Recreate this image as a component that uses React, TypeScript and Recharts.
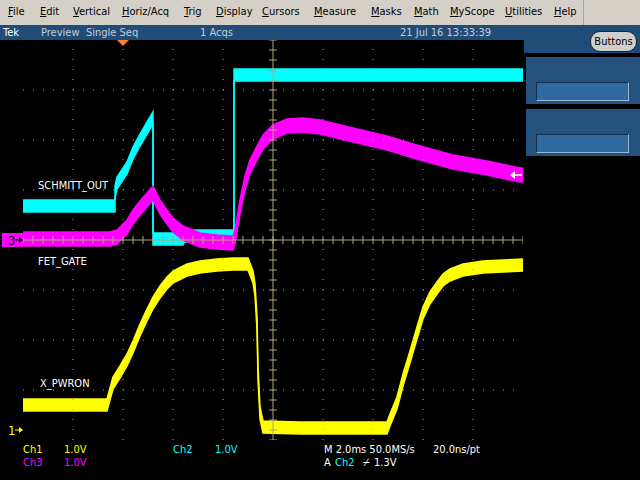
import React from 'react';
import {
  ComposedChart,
  Area,
  Scatter,
  XAxis,
  YAxis,
  ReferenceLine,
  ReferenceDot,
} from 'recharts';

// time in ms relative to the trigger, level in volts
const ch1Time = [
  -4.0, -0.64, -0.4, -0.12, 0.16, 0.4, 0.68, 0.96, 1.2, 1.48, 1.76, 2.0, 2.56, 3.08, 3.76, 4.4, 5.0,
  5.2, 5.28, 5.36, 5.4, 5.48, 5.6, 7.08, 10.56, 10.68, 10.96, 11.2, 11.48, 11.76, 12.0, 12.28, 12.56,
  12.8, 13.08, 13.6, 14.4, 15.2, 16.0,
];
const ch1Volts = [
  0.5, 0.5, 0.94, 1.16, 1.4, 1.66, 2.0, 2.3, 2.54, 2.76, 2.94, 3.06, 3.2, 3.26, 3.3, 3.32, 3.32,
  3.06, 2.8, 2.14, 1.14, 0.34, 0.06, 0.04, 0.04, 0.2, 0.54, 1.0, 1.46, 1.94, 2.34, 2.64, 2.84,
  3.0, 3.1, 3.2, 3.26, 3.28, 3.3,
];

const ch2Time = [-4.0, -0.32, -0.32, -0.24, 0.16, 0.4, 0.68, 0.96, 1.2, 1.2, 2.4, 2.44, 4.44, 4.44, 16.0];
const ch2Volts = [0.68, 0.68, 0.96, 1.14, 1.44, 1.74, 2.0, 2.24, 2.44, 0.02, 0.02, 0.08, 0.08, 3.3, 3.3];

const ch3Time = [
  -4.0, -0.52, -0.24, 0.16, 0.4, 0.68, 0.96, 1.2, 1.48, 1.76, 2.0, 2.4, 3.08, 3.76, 4.4, 4.48, 4.68,
  4.88, 5.08, 5.36, 5.6, 6.0, 6.56, 7.2, 7.88, 9.2, 10.56, 11.88, 13.2, 14.56, 15.88, 16.0,
];
const ch3Volts = [
  0.02, 0.02, 0.06, 0.26, 0.46, 0.64, 0.8, 0.94, 0.66, 0.46, 0.3, 0.14, 0.0, -0.04, -0.06, 0.06, 0.66,
  1.14, 1.46, 1.74, 1.96, 2.16, 2.28, 2.3, 2.26, 2.1, 1.94, 1.74, 1.56, 1.44, 1.3, 1.3,
];

// noise band (half width, V)
const ch1Noise = 0.12;
const ch2Noise = 0.12;
const ch3Noise = 0.14;

// channel position in divisions, 1 V/div each
const ch1Pos = -3.8;
const ch2Pos = 0;
const ch3Pos = 0;
const voltsPerDiv = 1;

const triggerLevel = 1.3;
const majorT = [-2, 0, 2, 4, 8, 10, 12, 14];
const majorV = [-3, -2, -1, 1, 2, 3];

const menuItems = ['File', 'Edit', 'Vertical', 'Horiz/Acq', 'Trig', 'Display', 'Cursors', 'Measure', 'Masks', 'Math', 'MyScope', 'Utilities', 'Help'];
const menuX = [8, 40, 73, 122, 184, 216, 262, 314, 371, 414, 450, 505, 554];

const minorT = Array.from({ length: 51 }, (_, i) => -4 + i * 0.4);
const minorV = Array.from({ length: 41 }, (_, i) => -4 + i * 0.2);

const toDiv = (v: number, pos: number) => v / voltsPerDiv + pos;

const buildBand = (time: number[], volts: number[], noise: number, pos: number) =>
  time.map((t, i) => ({ t, band: [toDiv(volts[i] - noise, pos), toDiv(volts[i] + noise, pos)] }));

const ch1Data = buildBand(ch1Time, ch1Volts, ch1Noise, ch1Pos);
const ch2Data = buildBand(ch2Time, ch2Volts, ch2Noise, ch2Pos);
const ch3Data = buildBand(ch3Time, ch3Volts, ch3Noise, ch3Pos);

const hTicks = minorT.map((t) => ({ t, y: 0 }));
const vTicks = minorV.map((y) => ({ t: 6, y }));

const GRID = '#aea47c';
const YELLOW = '#ffff00';
const CYAN = '#00ffff';
const MAGENTA = '#ff00ff';
const BLUE = '#204c78';
const uiFont = "'DejaVu Sans Condensed', 'Liberation Sans Narrow', sans-serif";

const txt = (left: number, top: number, color: string, text: string, lh = 12) => (
  <div
    style={{
      position: 'absolute',
      left,
      top,
      color,
      fontSize: 11,
      fontFamily: uiFont,
      lineHeight: `${lh}px`,
      whiteSpace: 'pre',
    }}
  >
    {text}
  </div>
);

const App = () => {
  return (
    <div style={{ position: 'absolute', left: 0, top: 0, width: 640, height: 480, background: '#000', overflow: 'hidden' }}>
      {/* menu bar */}
      <div style={{ position: 'absolute', left: 0, top: 0, width: 640, height: 25, background: '#d4d0c8' }} />
      <div style={{ position: 'absolute', left: 583, top: 0, width: 1, height: 25, background: '#a8a49c' }} />
      {menuItems.map((m, i) => (
        <div
          key={m}
          style={{ position: 'absolute', left: menuX[i], top: 6, fontSize: 11, fontFamily: uiFont, color: '#000', lineHeight: '12px' }}
        >
          <span style={{ textDecoration: 'underline' }}>{m[0]}</span>
          {m.slice(1)}
        </div>
      ))}
      {/* status bar */}
      <div style={{ position: 'absolute', left: 0, top: 25, width: 640, height: 15, background: BLUE }} />
      <div style={{ position: 'absolute', left: 524, top: 25, width: 116, height: 28, background: BLUE }} />
      {txt(3, 27, '#ffffff', 'Tek')}
      {txt(41, 27, '#c4ccd8', 'Preview')}
      {txt(86, 27, '#c4ccd8', 'Single Seq')}
      {txt(200, 27, '#c4ccd8', '1 Acqs')}
      {txt(400, 27, '#c4ccd8', '21 Jul 16 13:33:39')}
      <div
        style={{
          position: 'absolute',
          left: 590,
          top: 31,
          width: 45,
          height: 19,
          borderRadius: 10,
          background: '#cfcfcf',
          border: '1px solid #222',
          fontFamily: uiFont,
          fontSize: 11,
          lineHeight: '19px',
          textAlign: 'center',
          color: '#000',
        }}
      >
        Buttons
      </div>
      {[57, 109].map((y) => (
        <div key={y} style={{ position: 'absolute', left: 526, top: y, width: 114, height: 47, background: '#24517d' }}>
          <div
            style={{
              position: 'absolute',
              left: 10,
              top: 25,
              width: 91,
              height: 17,
              background: '#2f69a2',
              borderTop: '1px solid #142f4c',
              borderLeft: '1px solid #142f4c',
              borderBottom: '1px solid #9cb6d0',
              borderRight: '1px solid #9cb6d0',
            }}
          />
        </div>
      ))}

      <div style={{ position: 'absolute', left: 0, top: 0 }}>
        <ComposedChart width={640} height={480} margin={{ top: 40, right: 117, bottom: 40, left: 23 }}>
          <XAxis
            xAxisId="b"
            type="number"
            dataKey="t"
            domain={[-4, 16]}
            allowDataOverflow
            ticks={minorT}
            interval={0}
            orientation="bottom"
            mirror
            height={0}
            tickSize={4}
            tick={false}
            stroke={GRID}
          />
          <XAxis
            xAxisId="t"
            type="number"
            dataKey="t"
            domain={[-4, 16]}
            allowDataOverflow
            ticks={minorT}
            interval={0}
            orientation="top"
            mirror
            height={0}
            tickSize={4}
            tick={false}
            stroke={GRID}
          />
          <YAxis
            yAxisId="l"
            type="number"
            domain={[-4, 4]}
            allowDataOverflow
            ticks={minorV}
            interval={0}
            orientation="left"
            mirror
            width={0}
            tickSize={4}
            tick={false}
            stroke={GRID}
          />
          <YAxis
            yAxisId="r"
            type="number"
            domain={[-4, 4]}
            allowDataOverflow
            ticks={minorV}
            interval={0}
            orientation="right"
            mirror
            width={0}
            tickSize={4}
            tick={false}
            stroke={GRID}
          />
          {majorT.map((t) => (
            <ReferenceLine key={`gx${t}`} xAxisId="b" yAxisId="l" x={t} stroke={GRID} strokeDasharray="1 9" />
          ))}
          {majorV.map((v) => (
            <ReferenceLine key={`gy${v}`} xAxisId="b" yAxisId="l" y={v} stroke={GRID} strokeDasharray="1 9" />
          ))}
          <ReferenceLine xAxisId="b" yAxisId="l" x={6} stroke={GRID} />
          <ReferenceLine xAxisId="b" yAxisId="l" y={0} stroke={GRID} />
          <Scatter
            xAxisId="b"
            yAxisId="l"
            data={hTicks}
            dataKey="y"
            isAnimationActive={false}
            shape={(p: any) => <line x1={p.cx} x2={p.cx} y1={p.cy - 4} y2={p.cy + 4} stroke={GRID} />}
          />
          <Scatter
            xAxisId="b"
            yAxisId="l"
            data={vTicks}
            dataKey="y"
            isAnimationActive={false}
            shape={(p: any) => <line x1={p.cx - 4} x2={p.cx + 4} y1={p.cy} y2={p.cy} stroke={GRID} />}
          />
          <Area
            xAxisId="b"
            yAxisId="l"
            data={ch2Data}
            dataKey="band"
            type="linear"
            stroke={CYAN}
            strokeWidth={1.5}
            fill={CYAN}
            fillOpacity={1}
            dot={false}
            activeDot={false}
            isAnimationActive={false}
          />
          <Area
            xAxisId="b"
            yAxisId="l"
            data={ch3Data}
            dataKey="band"
            type="linear"
            stroke={MAGENTA}
            strokeWidth={1.5}
            fill={MAGENTA}
            fillOpacity={1}
            dot={false}
            activeDot={false}
            isAnimationActive={false}
          />
          <Area
            xAxisId="b"
            yAxisId="l"
            data={ch1Data}
            dataKey="band"
            type="linear"
            stroke={YELLOW}
            strokeWidth={1.5}
            fill={YELLOW}
            fillOpacity={1}
            dot={false}
            activeDot={false}
            isAnimationActive={false}
          />
          {/* trigger position */}
          <ReferenceDot
            xAxisId="b"
            yAxisId="l"
            x={0}
            y={4}
            ifOverflow="visible"
            shape={(p: any) => (
              <polygon points={`${p.cx - 6},${p.cy} ${p.cx + 6},${p.cy} ${p.cx},${p.cy + 6}`} fill="#ff7f3a" />
            )}
          />
          {/* trigger level */}
          <ReferenceDot
            xAxisId="b"
            yAxisId="l"
            x={16}
            y={toDiv(triggerLevel, ch2Pos)}
            ifOverflow="visible"
            shape={(p: any) => (
              <g>
                <line x1={p.cx - 11} x2={p.cx - 1} y1={p.cy} y2={p.cy} stroke="#fff" strokeWidth={1.5} />
                <polygon points={`${p.cx - 13},${p.cy} ${p.cx - 8},${p.cy - 4} ${p.cx - 8},${p.cy + 4}`} fill="#fff" />
              </g>
            )}
          />
          {/* channel ground markers */}
          <ReferenceDot
            xAxisId="b"
            yAxisId="l"
            x={-4}
            y={ch3Pos}
            ifOverflow="visible"
            shape={(p: any) => (
              <g>
                <rect x={p.cx - 21} y={p.cy - 7} width={21} height={14} fill={MAGENTA} />
                <text x={p.cx - 15} y={p.cy + 5} fontSize={13} fontFamily={uiFont} fill="#000">3</text>
                <line x1={p.cx - 8} x2={p.cx - 1} y1={p.cy} y2={p.cy} stroke="#000" />
                <polygon points={`${p.cx},${p.cy} ${p.cx - 4},${p.cy - 3} ${p.cx - 4},${p.cy + 3}`} fill="#000" />
              </g>
            )}
          />
          <ReferenceDot
            xAxisId="b"
            yAxisId="l"
            x={-4}
            y={ch1Pos}
            ifOverflow="visible"
            shape={(p: any) => (
              <g>
                <text x={p.cx - 15} y={p.cy + 5} fontSize={13} fontFamily={uiFont} fill={YELLOW}>1</text>
                <line x1={p.cx - 8} x2={p.cx - 1} y1={p.cy} y2={p.cy} stroke={YELLOW} />
                <polygon points={`${p.cx},${p.cy} ${p.cx - 4},${p.cy - 3} ${p.cx - 4},${p.cy + 3}`} fill={YELLOW} />
              </g>
            )}
          />
        </ComposedChart>
      </div>

      {/* trace labels */}
      {txt(38, 180, '#ffffff', 'SCHMITT_OUT')}
      {txt(38, 256, '#ffffff', 'FET_GATE')}
      {txt(40, 378, '#ffffff', 'X_PWRON')}

      {/* readouts */}
      {txt(23, 443, YELLOW, 'Ch1', 13)}
      {txt(64, 443, YELLOW, '1.0V', 13)}
      {txt(173, 443, CYAN, 'Ch2', 13)}
      {txt(215, 443, CYAN, '1.0V', 13)}
      {txt(324, 443, '#ffffff', 'M 2.0ms 50.0MS/s', 13)}
      {txt(433, 443, '#ffffff', '20.0ns/pt', 13)}
      {txt(23, 456, MAGENTA, 'Ch3', 13)}
      {txt(64, 456, MAGENTA, '1.0V', 13)}
      {txt(324, 456, '#ffffff', 'A', 13)}
      {txt(335, 456, CYAN, 'Ch2', 13)}
      {txt(363, 456, '#ffffff', '⌿', 13)}
      {txt(374, 456, '#ffffff', '1.3V', 13)}
    </div>
  );
};

export default App;
